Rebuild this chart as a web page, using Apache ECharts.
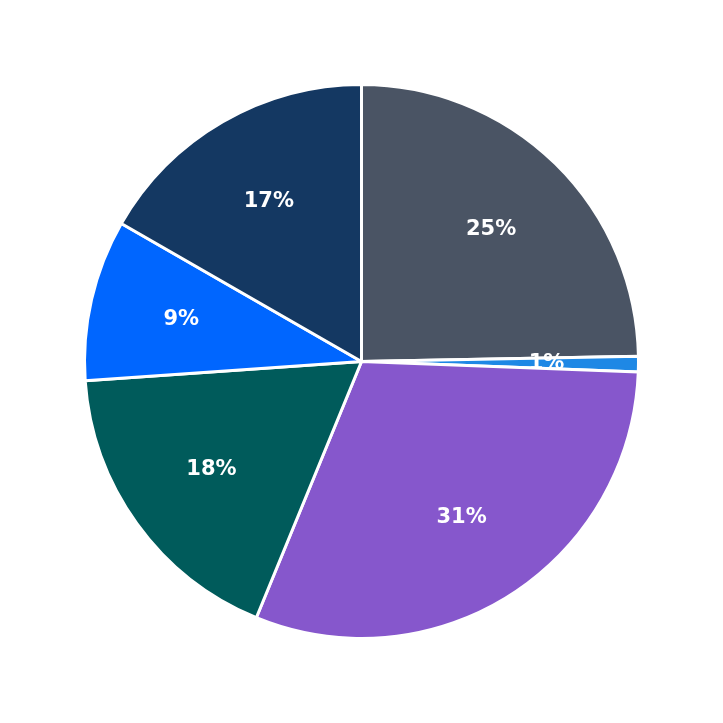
<!DOCTYPE html>
<html>
<head>
<meta charset="utf-8">
<script src="https://cdn.jsdelivr.net/npm/echarts@6/dist/echarts.min.js"></script>
<style>html,body{margin:0;padding:0;background:#fff}#chart{width:723px;height:723px}</style>
</head>
<body>
<div id="chart"></div>
<script>
var names = ['A', 'B', 'C', 'D', 'E', 'F'];
var values = [24.7, 0.9, 30.6, 17.7, 9.4, 16.7];
var colors = ['#4a5464', '#1e88e5', '#8657cc', '#005b5b', '#0066ff', '#143862'];

var chart = echarts.init(document.getElementById('chart'));

var pieData = names.map(function (n, i) {
	return { name: n, value: values[i], itemStyle: { color: colors[i] } };
});
var labelData = names.map(function (n, i) {
	return { name: n, value: values[i] };
});

var option = {
	animation: false,
	series: [{
		type: 'pie',
		center: ['50%', '50%'],
		radius: [0, 277],
		startAngle: 90,
		clockwise: true,
		label: { show: false },
		labelLine: { show: false },
		itemStyle: { borderColor: '#fff', borderWidth: 3 },
		data: pieData
	}, {
		type: 'pie',
		center: ['50%', '50%'],
		radius: [87, 277],
		startAngle: 90,
		clockwise: true,
		silent: true,
		itemStyle: { color: 'rgba(0,0,0,0)' },
		labelLine: { show: false },
		label: {
			show: true,
			position: 'inside',
			color: '#fff',
			fontSize: 21,
			fontWeight: 'bold',
			fontFamily: 'DejaVu Sans',
			formatter: function (p) { return Math.round(p.percent) + '%'; }
		},
		data: labelData
	}]
};
chart.setOption(option);
</script>
</body>
</html>
